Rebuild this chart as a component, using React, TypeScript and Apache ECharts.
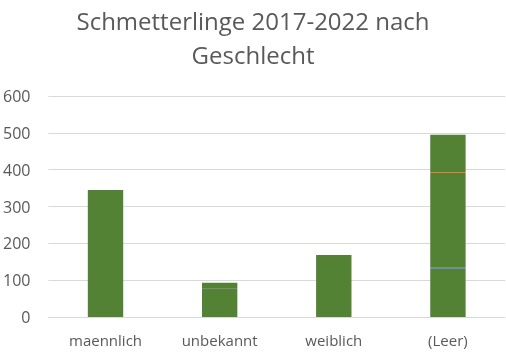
import React, { useEffect, useRef } from "react";
import * as echarts from "echarts";

const categories = ["maennlich", "unbekannt", "weiblich", "(Leer)"];
const segBottom = [345, 74, 168, 131];
const lineBlue = [0, 0, 0, 3];
const lineDark = [0, 3, 0, 0];
const segMiddle = [0, 16, 0, 257];
const lineOrange = [0, 0, 0, 3];
const segTop = [0, 0, 0, 101];
const yTicks = [0, 100, 200, 300, 400, 500, 600];

const GREEN = "#548235";

export default function App() {
  const ref = useRef<HTMLDivElement>(null);
  useEffect(() => {
    const chart = echarts.init(ref.current!, undefined, { renderer: "svg" });
    const mk = (name: string, data: number[], color: string) => ({
      name,
      type: "bar",
      stack: "total",
      data,
      barCategoryGap: "69%",
      itemStyle: { color },
    });
    chart.setOption({
      animation: false,
      title: {
        text: "Schmetterlinge 2017-2022 nach\nGeschlecht",
        left: "center",
        top: -2,
        textStyle: {
          fontFamily: "Open Sans",
          fontSize: 24,
          fontWeight: "normal",
          color: "#595959",
          lineHeight: 34,
        },
      },
      grid: { left: 47, right: 1, top: 96, bottom: 40 },
      xAxis: {
        type: "category",
        data: categories,
        axisLine: { lineStyle: { color: "#d9d9d9", width: 1 } },
        axisTick: { show: false },
        axisLabel: {
          fontFamily: "Open Sans",
          fontSize: 15,
          color: "#595959",
          margin: 15,
        },
      },
      yAxis: {
        type: "value",
        min: yTicks[0],
        max: yTicks[yTicks.length - 1],
        interval: 100,
        axisLine: { show: false },
        axisTick: { show: false },
        splitLine: { lineStyle: { color: "#d9d9d9", width: 1 } },
        axisLabel: {
          fontFamily: "Open Sans",
          fontSize: 16,
          color: "#595959",
          margin: 18,
        },
      },
      series: [
        mk("a", segBottom, GREEN),
        mk("b", lineBlue, "#4472C4"),
        mk("c", lineDark, "#375b22"),
        mk("d", segMiddle, GREEN),
        mk("e", lineOrange, "#ED7D31"),
        mk("f", segTop, GREEN),
      ],
    });
    return () => chart.dispose();
  }, []);
  return (
    <div
      ref={ref}
      style={{ position: "fixed", left: 0, top: 0, width: 506, height: 357 }}
    />
  );
}
